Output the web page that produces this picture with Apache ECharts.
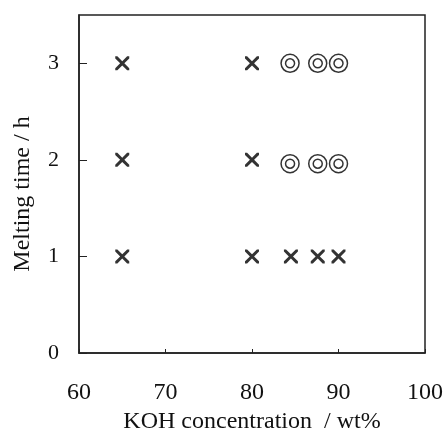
<!DOCTYPE html>
<html>
<head>
<meta charset="utf-8">
<script src="https://cdn.jsdelivr.net/npm/echarts@6/dist/echarts.min.js"></script>
<style>
  html, body { margin: 0; padding: 0; background: #fff; }
  #chart { width: 445px; height: 429px; }
</style>
</head>
<body>
<div id="chart"></div>
<script>
// x = KOH concentration (wt%), y = melting time (h)
var crossPoints = [
    [65, 1], [65, 2], [65, 3],
    [80, 1], [80, 2], [80, 3],
    [84.5, 1], [87.6, 1], [90, 1]
];
var circlePoints = [
    [84.4, 1.96], [87.6, 1.96], [90, 1.96],
    [84.4, 3], [87.6, 3], [90, 3]
];

var font = 'Liberation Serif, Times New Roman, serif';
// filled X shape (two crossing bars)
var crossPath = 'path://M0,0 L3,0 L10,7 L17,0 L20,0 L20,3 L13,10 L20,17 L20,20 L17,20 L10,13 L3,20 L0,20 L0,17 L7,10 L0,3 Z';

var myChart = echarts.init(document.getElementById('chart'));

var option = {
    animation: false,
    grid: {
        left: 79, right: 20, top: 15, bottom: 76,
        outerBoundsMode: 'none',
        show: true,
        borderColor: '#222',
        borderWidth: 1.5
    },
    xAxis: {
        type: 'value',
        min: 60, max: 100, interval: 10,
        name: 'KOH concentration  / wt%',
        nameLocation: 'middle',
        nameGap: 55,
        nameTextStyle: { fontFamily: font, fontSize: 24, color: '#111' },
        axisLine: { lineStyle: { color: '#222', width: 1.5 } },
        axisTick: { inside: true, length: 4, lineStyle: { color: '#222' } },
        axisLabel: { margin: 28, fontFamily: font, fontSize: 24, color: '#111' },
        splitLine: { show: false }
    },
    yAxis: {
        type: 'value',
        min: 0, max: 3.5, interval: 1,
        name: 'Melting time / h',
        nameLocation: 'middle',
        nameGap: 44,
        nameTextStyle: { fontFamily: font, fontSize: 24, color: '#111', padding: [0, 20, 0, 0] },
        axisLine: { lineStyle: { color: '#222', width: 1.5 } },
        axisTick: { inside: true, length: 8, lineStyle: { color: '#222' } },
        axisLabel: {
            margin: 20, fontFamily: font, fontSize: 22, color: '#111',
            showMaxLabel: false,
            verticalAlignMinLabel: 'middle'
        },
        splitLine: { show: false }
    },
    series: [
        {
            name: 'cross',
            type: 'scatter',
            symbol: crossPath,
            symbolSize: 14,
            itemStyle: { color: '#000' },
            data: crossPoints
        },
        {
            name: 'circleOuter',
            type: 'scatter',
            symbol: 'circle',
            symbolSize: 18,
            itemStyle: { color: '#fff', borderColor: '#000', borderWidth: 1.5 },
            data: circlePoints
        },
        {
            name: 'circleInner',
            type: 'scatter',
            symbol: 'circle',
            symbolSize: 9,
            itemStyle: { color: '#fff', borderColor: '#000', borderWidth: 1.5 },
            data: circlePoints
        }
    ]
};

myChart.setOption(option);
</script>
</body>
</html>
